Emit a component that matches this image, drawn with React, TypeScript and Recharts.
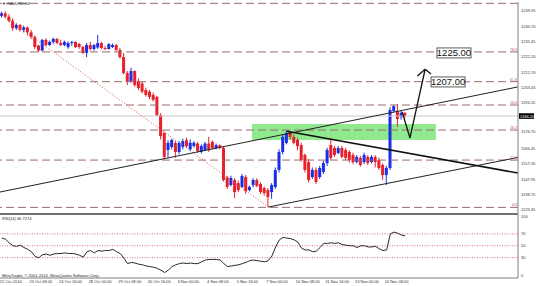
import React from 'react';
import {
  ComposedChart,
  Bar,
  Line,
  XAxis,
  YAxis,
  ReferenceLine,
  ReferenceArea,
  ReferenceDot,
} from 'recharts';

// XAUUSD H4 candles (bar 0 = 22 Oct 2014 00:00)
const opens = [
  1247.0, 1248.5, 1246.5, 1244.0, 1239.5, 1241.5, 1238.5, 1240.0, 1237.0, 1234.2,
  1229.0, 1226.0, 1232.4, 1229.3, 1231.2, 1233.0, 1230.5, 1229.3, 1228.0, 1230.5,
  1231.2, 1229.9, 1228.1, 1224.5, 1229.3, 1226.9, 1227.8, 1230.5, 1227.5, 1226.9,
  1228.1, 1229.3, 1226.3, 1222.0, 1212.3, 1207.5, 1213.5, 1207.5, 1206.0, 1202.0,
  1201.0, 1199.0, 1197.8, 1186.8, 1175.9, 1165.6, 1167.4, 1169.9, 1164.4, 1167.4,
  1171.5, 1166.0, 1168.0, 1169.5, 1164.5, 1165.6, 1169.5, 1170.5, 1166.8, 1168.5,
  1166.8, 1149.0, 1144.4, 1147.4, 1145.5, 1143.2, 1149.2, 1141.3, 1144.4, 1147.4,
  1145.0, 1142.5, 1141.3, 1140.1, 1143.2, 1153.5, 1164.4, 1169.9, 1176.5, 1173.5,
  1171.7, 1168.6, 1162.6, 1158.3, 1149.2, 1153.5, 1149.2, 1152.3, 1157.7, 1168.6,
  1166.8, 1163.8, 1166.8, 1165.6, 1164.4, 1162.6, 1158.3, 1160.8, 1158.3, 1161.4,
  1158.3, 1161.4, 1159.5, 1156.5, 1150.4, 1154.7, 1189.3, 1189.3, 1185.6, 1188.1,
];
const highs = [
  1249.5, 1249.8, 1248.0, 1245.5, 1242.5, 1242.0, 1241.0, 1240.5, 1238.5, 1235.0,
  1229.5, 1233.0, 1233.5, 1232.0, 1233.8, 1233.5, 1232.5, 1232.0, 1231.5, 1231.8,
  1231.5, 1230.5, 1228.8, 1230.5, 1231.2, 1230.0, 1235.4, 1231.2, 1228.8, 1230.5,
  1230.2, 1230.0, 1227.5, 1224.5, 1213.5, 1215.5, 1214.0, 1209.0, 1207.0, 1203.5,
  1202.0, 1200.5, 1198.5, 1188.0, 1176.5, 1171.5, 1172.5, 1171.0, 1171.0, 1172.5,
  1173.0, 1172.0, 1171.0, 1170.5, 1169.0, 1170.5, 1173.5, 1171.5, 1169.5, 1169.0,
  1168.0, 1150.0, 1150.0, 1148.5, 1147.0, 1151.0, 1150.5, 1144.0, 1148.5, 1148.5,
  1146.0, 1143.5, 1142.5, 1145.5, 1155.0, 1166.0, 1175.0, 1177.3, 1177.0, 1175.0,
  1173.0, 1170.0, 1163.5, 1160.0, 1155.0, 1155.0, 1156.0, 1159.0, 1167.0, 1171.7,
  1168.0, 1168.0, 1168.0, 1167.0, 1165.5, 1164.0, 1162.5, 1162.0, 1164.0, 1162.5,
  1162.5, 1162.5, 1161.0, 1157.5, 1156.0, 1191.5, 1193.0, 1193.5, 1189.5, 1188.7,
];
const lows = [
  1246.0, 1245.5, 1243.0, 1238.0, 1238.5, 1237.5, 1237.0, 1235.0, 1233.0, 1227.0,
  1225.0, 1225.5, 1228.5, 1228.8, 1230.0, 1230.0, 1228.7, 1228.5, 1227.0, 1228.8,
  1227.5, 1227.0, 1223.8, 1222.0, 1226.0, 1225.8, 1227.0, 1226.8, 1226.3, 1226.5,
  1227.5, 1225.5, 1221.0, 1211.5, 1205.0, 1206.5, 1204.0, 1202.0, 1200.0, 1198.0,
  1196.5, 1195.0, 1186.0, 1172.0, 1160.0, 1161.0, 1166.0, 1161.0, 1163.0, 1166.0,
  1167.0, 1165.0, 1167.0, 1164.0, 1163.5, 1165.0, 1164.5, 1166.0, 1166.0, 1166.0,
  1146.5, 1142.0, 1143.5, 1136.5, 1140.0, 1142.5, 1139.0, 1140.5, 1143.0, 1143.0,
  1139.0, 1138.0, 1131.0, 1136.0, 1142.0, 1152.0, 1163.0, 1169.0, 1172.0, 1169.0,
  1165.5, 1158.5, 1152.0, 1146.0, 1148.0, 1145.0, 1148.0, 1151.0, 1156.0, 1159.5,
  1161.5, 1163.0, 1160.5, 1159.5, 1158.0, 1157.0, 1157.5, 1155.5, 1157.0, 1156.5,
  1157.5, 1155.0, 1153.5, 1147.5, 1144.4, 1153.5, 1188.5, 1179.6, 1184.0, 1185.0,
];
const closes = [
  1248.5, 1246.5, 1244.0, 1239.5, 1241.5, 1238.5, 1240.0, 1237.0, 1234.2, 1228.1,
  1226.0, 1232.4, 1229.3, 1231.2, 1233.0, 1230.5, 1229.3, 1231.2, 1230.5, 1231.2,
  1228.1, 1228.1, 1224.5, 1229.3, 1226.9, 1229.3, 1230.5, 1227.5, 1226.9, 1229.9,
  1229.3, 1226.3, 1222.0, 1212.3, 1206.9, 1213.5, 1205.0, 1203.2, 1201.0, 1199.0,
  1197.8, 1196.0, 1186.8, 1174.0, 1161.5, 1169.9, 1171.7, 1164.4, 1169.9, 1171.0,
  1168.0, 1170.0, 1170.0, 1165.0, 1168.0, 1169.5, 1165.5, 1166.8, 1168.6, 1167.0,
  1147.4, 1143.2, 1148.6, 1140.1, 1141.3, 1149.8, 1140.7, 1143.2, 1147.4, 1143.8,
  1140.1, 1139.5, 1137.1, 1144.4, 1153.5, 1164.4, 1173.5, 1175.9, 1173.5, 1169.9,
  1168.0, 1159.5, 1153.5, 1147.4, 1153.5, 1146.2, 1154.7, 1157.7, 1165.6, 1160.8,
  1162.6, 1166.8, 1161.4, 1160.8, 1159.5, 1158.3, 1161.4, 1156.5, 1162.6, 1157.7,
  1161.4, 1158.3, 1154.7, 1150.4, 1154.7, 1189.9, 1192.2, 1184.4, 1188.1, 1186.2,
];
const rsiValues = [
  63, 61, 55, 50, 49, 51, 47, 44, 40, 32,
  30, 35, 36, 34, 36, 37, 37, 38, 37, 37,
  36, 34, 31, 40, 42, 38, 42, 41, 42, 42,
  44, 40, 37, 29, 20, 22, 21, 19, 18, 16,
  15, 14, 12, 9, 5, 9, 15, 18, 20, 21,
  20, 21, 20, 20, 23, 26, 27, 27, 27, 26,
  20, 15, 16, 17, 18, 20, 22, 25, 26, 25,
  24, 23, 25, 33, 48, 60, 64, 63, 62, 60,
  56, 46, 43, 43, 40, 41, 47, 54, 54, 55,
  54, 55, 52, 51, 50, 50, 47, 50, 50, 48,
  48, 49, 45, 42, 43, 70, 73, 71, 68, 66.7,
];

const timeTickBars = [0, 8, 16, 24, 32, 40, 48, 56, 64, 72, 80, 88, 96, 104];
const timeLabels = [
  '22 Oct 2014', '23 Oct 08:00', '24 Oct 16:00', '28 Oct 00:00', '29 Oct 08:00',
  '30 Oct 16:00', '3 Nov 00:00', '4 Nov 08:00', '5 Nov 16:00', '7 Nov 00:00',
  '10 Nov 08:00', '11 Nov 16:00', '13 Nov 00:00', '14 Nov 08:00',
];
const priceTicks = [
  1249.95, 1240.7, 1231.45, 1222.2, 1212.7, 1203.45, 1194.2,
  1176.7, 1166.45, 1157.2, 1147.95, 1138.7, 1129.45,
];
const fibNames = ['0.0', '23.6', '38.2', '50.0', '61.8', '78.6', '100.0'];
const fibPrices = [1130.8, 1159.5, 1177.7, 1192.9, 1207.05, 1225.1, 1254.6];
const rsiLevels = [30, 50, 70];
const rsiTicks = [0, 30, 50, 70, 100];
const bidPrice = 1186.2;

const BULL = '#1a2ee6';
const BEAR = '#e8202a';
const FONT = '"Liberation Sans", Arial, sans-serif';

const candles = opens.map((o, i) => ({
  i,
  o,
  h: highs[i],
  l: lows[i],
  c: closes[i],
  range: [lows[i], highs[i]],
  rsi: rsiValues[i],
}));

const Candle = (props: any) => {
  const { x, y, width, height, payload } = props;
  if (!payload || !Number.isFinite(y) || !Number.isFinite(height)) return null;
  const { o, h, l, c } = payload;
  const top = Math.min(y, y + height);
  const span = Math.abs(height);
  const k = h === l ? 0 : span / (h - l);
  const py = (p: number) => top + (h - p) * k;
  const cx = x + width / 2;
  const color = c >= o ? BULL : BEAR;
  const bTop = py(Math.max(o, c));
  const bBot = py(Math.min(o, c));
  return (
    <g>
      <line x1={cx} x2={cx} y1={top} y2={top + span} stroke={color} strokeWidth={1} />
      <rect x={cx - 1.5} y={bTop} width={3} height={Math.max(bBot - bTop, 1)} fill={color} />
    </g>
  );
};

const PriceTick = (props: any) => {
  const { x, y, payload } = props;
  return (
    <text x={x} y={y + 1.5} fontSize={4} fill="#333" fontFamily={FONT}>
      {Number(payload.value).toFixed(2)}
    </text>
  );
};

const RsiTick = (props: any) => {
  const { x, y, payload } = props;
  return (
    <text x={x} y={y + 1.5} fontSize={4} fill="#333" fontFamily={FONT}>
      {payload.value}
    </text>
  );
};

const TimeTick = (props: any) => {
  const { x, y, payload } = props;
  const label = timeLabels[timeTickBars.indexOf(payload.value)];
  return (
    <text x={x - 2} y={y + 5} fontSize={4} fill="#333" fontFamily={FONT}>
      {label}
    </text>
  );
};

const PriceTag = (props: any) => {
  const { cx, cy, text } = props;
  return (
    <g>
      <rect x={cx - 17} y={cy - 5} width={34} height={10} fill="#fff" stroke="#333" strokeWidth={0.8} />
      <text x={cx} y={cy + 3.4} textAnchor="middle" fontSize={9.5} fill="#111" fontFamily={FONT}>
        {text}
      </text>
    </g>
  );
};

const BidLabel = (props: any) => {
  const { viewBox } = props;
  const x = viewBox.x + viewBox.width;
  const y = viewBox.y;
  return (
    <g>
      <rect x={x + 1} y={y - 2.8} width={15} height={5.6} fill="#000" />
      <text x={x + 2} y={y + 1.5} fontSize={4} fill="#fff" fontFamily={FONT}>
        {bidPrice.toFixed(2)}
      </text>
    </g>
  );
};

const X_DOMAIN = [-0.5, 139.5];

export default function App() {
  return (
    <div style={{ position: 'absolute', left: 0, top: 0, width: 537, height: 286, background: '#fff' }}>
      <div style={{ position: 'absolute', left: 0, top: 0 }}>
        <ComposedChart width={537} height={213} data={candles} margin={{ top: 2, right: 0, bottom: 0, left: 0 }}>
          <XAxis dataKey="i" type="number" domain={X_DOMAIN} allowDataOverflow hide />
          <YAxis
            orientation="right"
            width={19}
            domain={[1127.38, 1255.41]}
            allowDataOverflow
            ticks={priceTicks}
            interval={0}
            tickSize={0}
            tickMargin={3}
            tick={<PriceTick />}
            axisLine={{ stroke: '#808080' }}
          />
          <ReferenceArea x1={67.6} x2={117.3} y1={1171.7} y2={1181.4} fill="#8fe98f" fillOpacity={1} stroke="none" />
          {fibPrices.map((p, k) => (
            <ReferenceLine
              key={fibNames[k]}
              y={p}
              stroke="#9b6a6a"
              strokeDasharray="8 4"
              label={k < 6 ? { value: fibNames[k], position: 'insideBottomRight', offset: 1, fontSize: 4, fill: '#c0407a' } : undefined}
            />
          ))}
          <ReferenceLine y={bidPrice} stroke="#c8c8c8" label={<BidLabel />} />
          <ReferenceLine
            segment={[{ x: -0.5, y: 1248.4 }, { x: 72, y: 1131.0 }]}
            stroke="#e05050"
            strokeDasharray="1 2"
          />
          <Bar dataKey="range" barSize={3} shape={<Candle />} isAnimationActive={false} />
          <ReferenceLine segment={[{ x: -0.5, y: 1140.1 }, { x: 139.5, y: 1203.9 }]} stroke="#222" ifOverflow="hidden" />
          <ReferenceLine segment={[{ x: 72, y: 1131.0 }, { x: 139.5, y: 1161.1 }]} stroke="#222" ifOverflow="hidden" />
          <ReferenceLine segment={[{ x: 77, y: 1177.0 }, { x: 139.5, y: 1151.6 }]} stroke="#111" strokeWidth={1.6} ifOverflow="hidden" />
          <ReferenceLine segment={[{ x: 108.2, y: 1188.7 }, { x: 110.3, y: 1172.9 }]} stroke="#111" strokeWidth={1.3} />
          <ReferenceLine segment={[{ x: 110.3, y: 1172.9 }, { x: 114.4, y: 1214.6 }]} stroke="#111" strokeWidth={1.3} />
          <ReferenceLine segment={[{ x: 112.3, y: 1210.5 }, { x: 114.4, y: 1214.6 }]} stroke="#111" strokeWidth={1.3} />
          <ReferenceLine segment={[{ x: 116.0, y: 1211.7 }, { x: 114.4, y: 1214.6 }]} stroke="#111" strokeWidth={1.3} />
          <ReferenceDot x={122.2} y={1224.5} r={0} shape={(p: any) => <PriceTag {...p} text="1225.00" />} />
          <ReferenceDot x={120.6} y={1206.9} r={0} shape={(p: any) => <PriceTag {...p} text="1207.00" />} />
        </ComposedChart>
      </div>
      <div style={{ position: 'absolute', left: 0, top: 213 }}>
        <ComposedChart width={537} height={73} data={candles} margin={{ top: 1, right: 0, bottom: 0, left: 0 }}>
          <XAxis
            dataKey="i"
            type="number"
            domain={X_DOMAIN}
            allowDataOverflow
            ticks={timeTickBars}
            interval={0}
            height={8}
            tickLine={false}
            tickSize={0}
            tickMargin={0}
            tick={<TimeTick />}
            axisLine={{ stroke: '#808080' }}
          />
          <YAxis
            orientation="right"
            width={19}
            domain={[-4.2, 103.4]}
            allowDataOverflow
            ticks={rsiTicks}
            interval={0}
            tickSize={0}
            tickMargin={3}
            tick={<RsiTick />}
            axisLine={{ stroke: '#808080' }}
          />
          {rsiLevels.map((v) => (
            <ReferenceLine key={v} y={v} stroke="#e06a8a" strokeDasharray="1 1.5" />
          ))}
          <ReferenceLine y={103.4} stroke="#707070" strokeWidth={2} />
          <Line dataKey="rsi" stroke="#2a2a2a" strokeWidth={1} dot={false} isAnimationActive={false} />
        </ComposedChart>
      </div>
      <svg width={537} height={286} style={{ position: 'absolute', left: 0, top: 0, pointerEvents: 'none' }}>
        <text x={2} y={5} fontSize={4} fill="#222" fontFamily={FONT}>▼ XAUUSD,H4</text>
        <text x={2} y={219.5} fontSize={4} fill="#222" fontFamily={FONT}>RSI(14) 66.7274</text>
        <text x={2} y={276.5} fontSize={4} fill="#222" fontFamily={FONT}>
          MetaTrader, © 2001-2014, MetaQuotes Software Corp.
        </text>
      </svg>
    </div>
  );
}
